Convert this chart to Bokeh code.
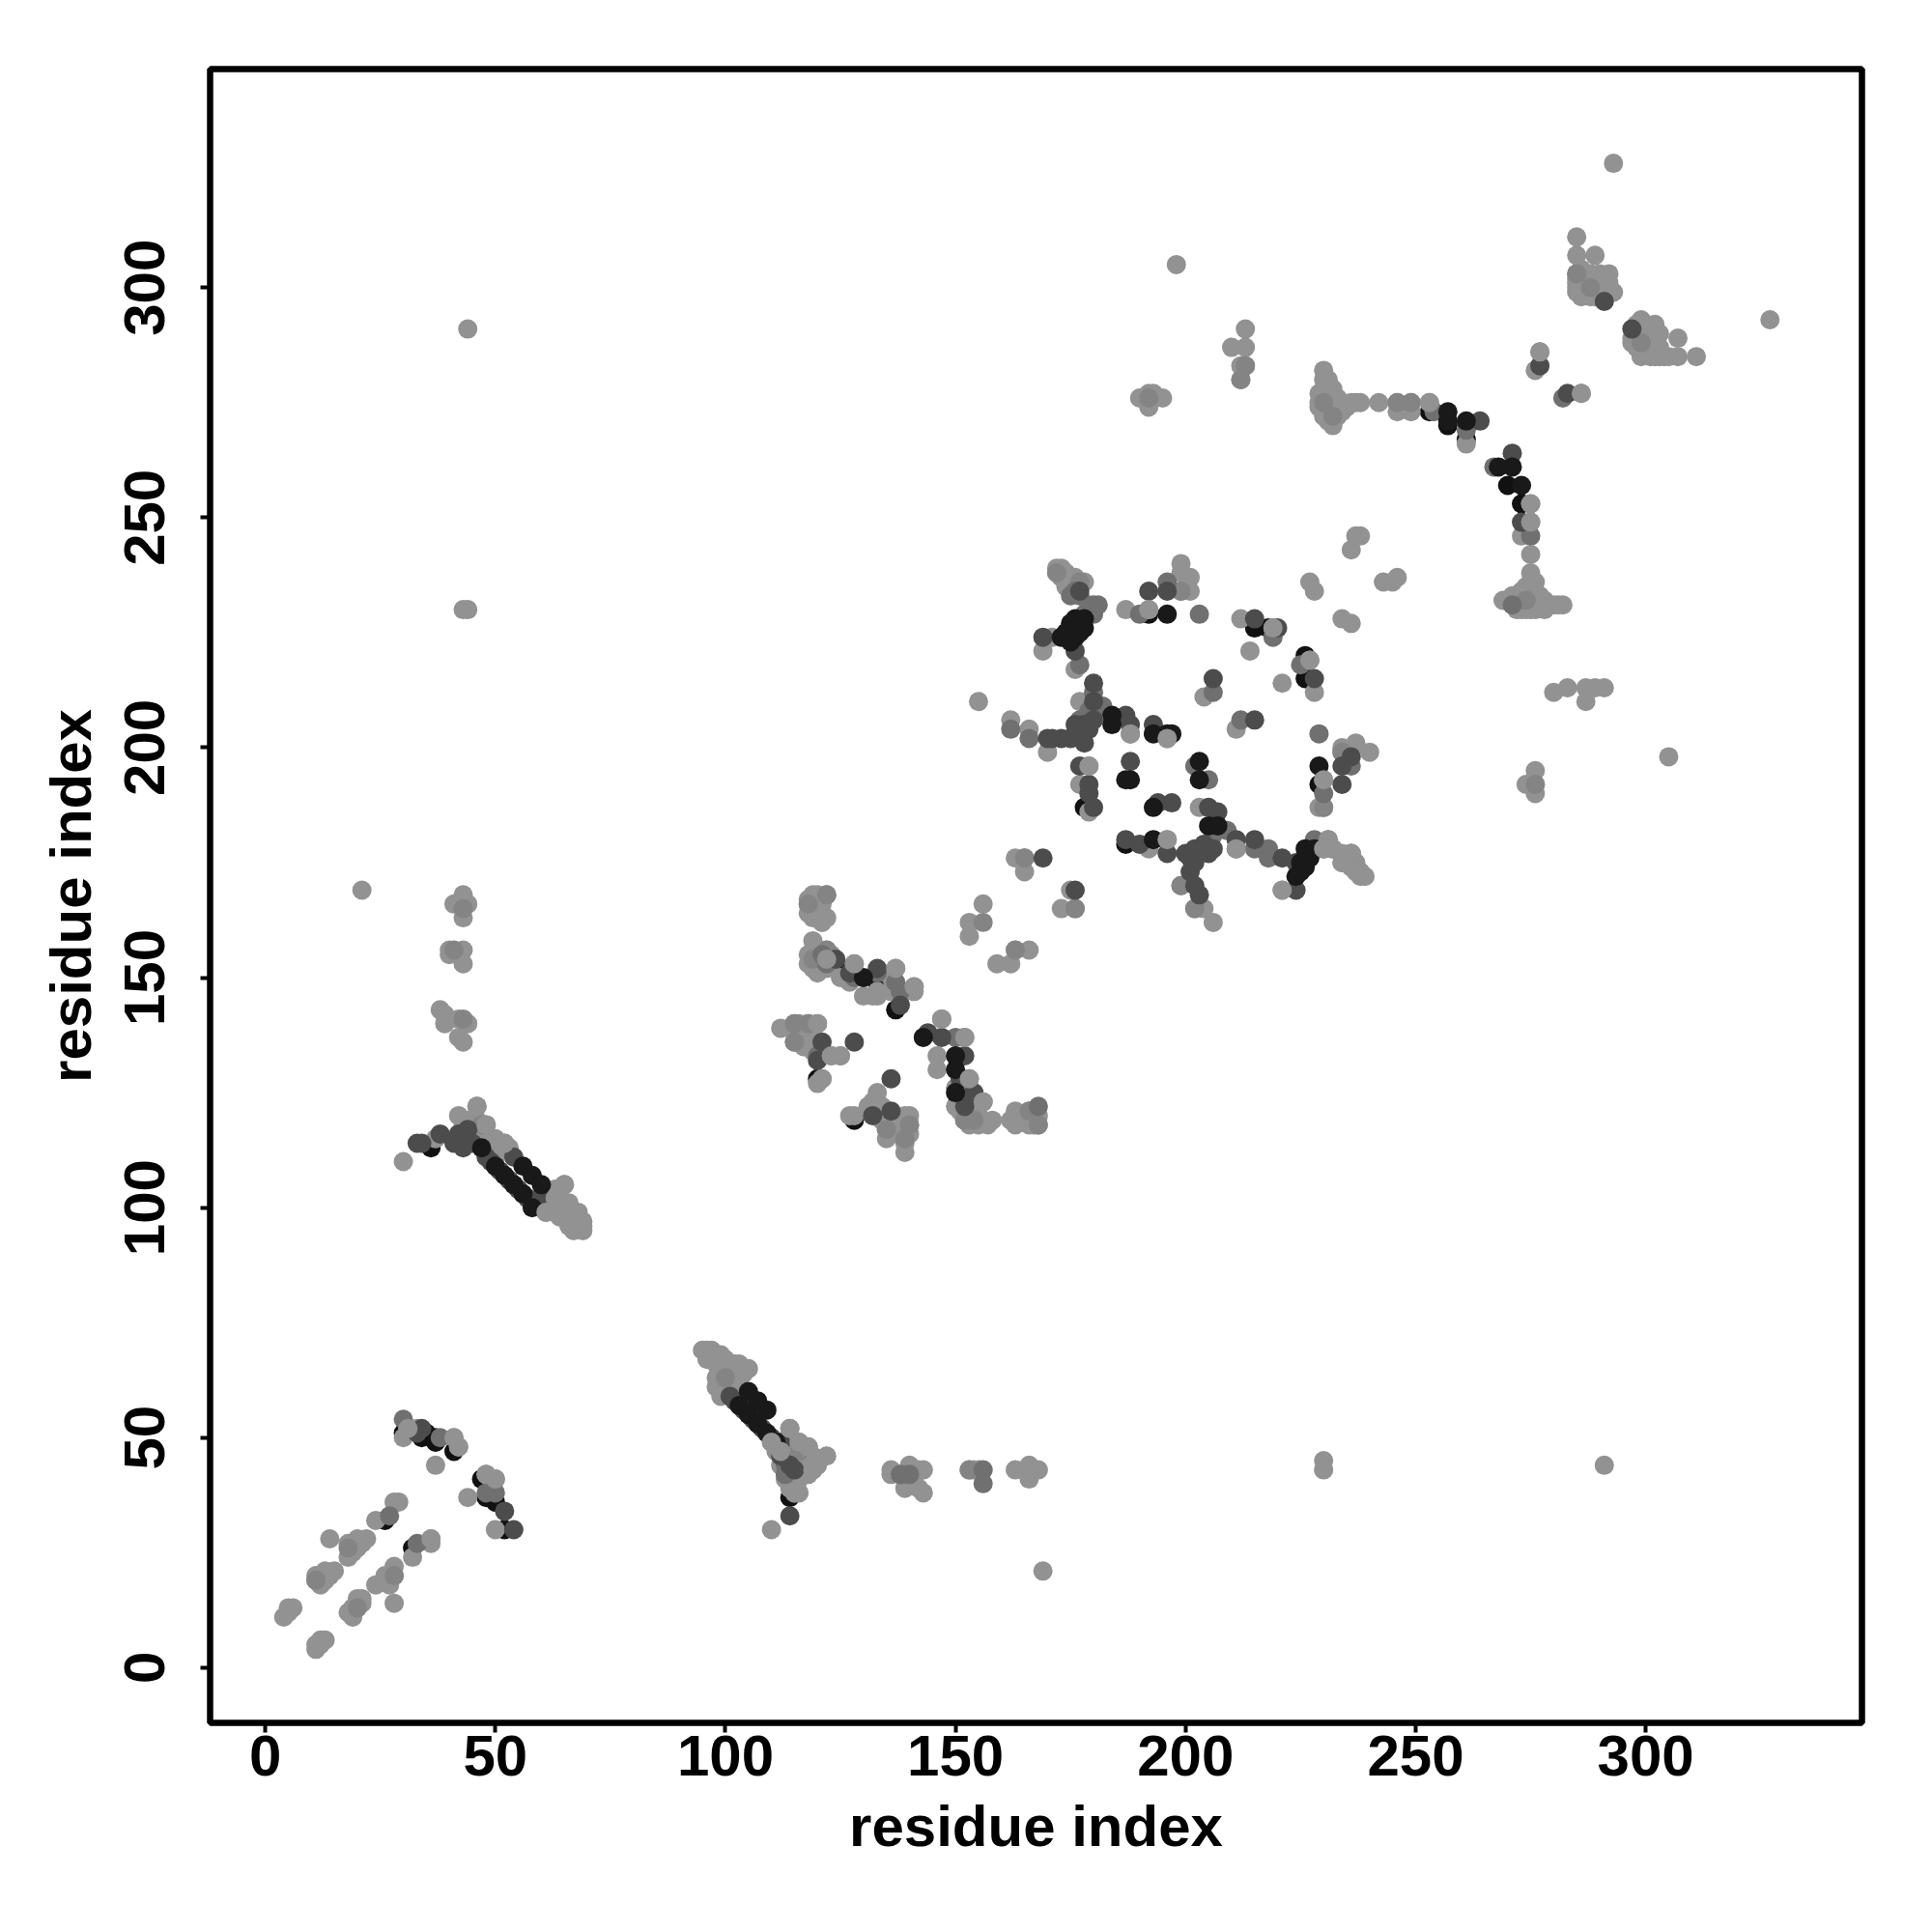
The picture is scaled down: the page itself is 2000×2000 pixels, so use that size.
from bokeh.plotting import figure
from bokeh.models import FixedTicker, Range1d
from bokeh.embed import file_html
from bokeh.resources import INLINE

tick_values = [0, 50, 100, 150, 200, 250, 300]
x_label = "residue index"
y_label = "residue index"

under_black_points = [
 (30,51),(34,50),(35,51),(37,50),(37,49),(41,47),(47,41),(48,37),(50,36),(52,30),(32,26),(26,32),(114,37),
 (36,113),(125,152),(133,149),(137,143),(119,136),(120,128),(128,119),(136,119),(192,229),(215,226),(218,226),
 (226,220),(226,218),(226,215),(178,187),(187,179),(229,192),(253,273),(257,270),(261,267),(273,253),(270,257),
]
light_points = [
 (31,52),(30,50),(37,44),(41,50),(42,48),(48,42),(50,41),(44,37),(50,30),(33,52),
 (28,36),(29,36),(24,32),(14,28),(18,27),(20,28),(22,28),(18,24),(20,26),(19,25),(21,27),
 (11,20),(12,18),(13,21),(15,21),(11,19),(12,20),(14,20),(13,19),(5,13),(6,13),(4,11),(5,12),(12,6),(13,6),(11,4),(11,5),(12,5),
 (36,28),(36,27),(32,24),(28,22),(28,20),(24,18),(27,18),(26,19),(28,14),(21,15),(20,13),(18,12),(19,11),(21,14),(27,20),(26,20),(20,15),(19,13),
 (95,69),(96,69),(97,69),(96,67),(98,68),(99,66),(100,67),(102,66),(105,65),(99,64),(101,64),(98,61),(99,59),(100,62),
 (96,68),(97,67),(98,66),(99,68),(100,64),(101,66),(103,65),(103,66),(104,64),(98,63),(102,62),(100,60),(101,61),(103,63),
 (110,49),(112,47),(114,52),(116,49),(118,48),(122,46),(119,43),(116,46),(114,42),(115,40),(115,38),(116,44),(110,30),
 (111,47),(113,46),(113,49),(115,48),(117,47),(115,45),(117,45),(119,46),(120,44),(118,42),(116,41),(113,41),(114,39),(116,38),(117,44),(112,44),
 (136,43),(136,42),(140,44),(142,43),(141,41),(139,39),(142,39),(143,38),(141,42),(143,43),(140,43),
 (153,43),(155,43),(154,43),(163,43),(166,44),(168,43),(166,41),(169,21),(230,45),(230,43),(291,44),
 (30,110),(37,115),(43,115),(42,120),(46,122),(48,118),(45,118),(44,119),(52,114),(50,115),(65,105),(66,101),(63,102),(61,99),(64,99),(67,99),(68,98),(69,97),(69,95),(68,96),
 (45,117),(43,118),(44,116),(46,119),(47,116),(48,116),(49,115),(50,114),(51,113),(53,113),(48,113),(49,112),(50,111),
 (60,103),(61,101),(62,100),(63,99),(64,98),(65,100),(66,98),(67,97),(64,102),(63,104),(68,99),(66,96),(67,95),(69,96),(62,103),
 (21,169),(44,291),(44,230),(43,230),(43,168),(41,166),(44,166),(43,163),(40,156),(43,156),(40,155),(43,153),(38,143),(39,142),(39,140),(42,141),(44,140),(42,137),(43,136),
 (119,168),(122,168),(118,166),(121,166),(119,163),(122,163),(119,158),(119,154),(122,156),(120,152),(125,150),(128,153),(130,146),(133,147),(137,152),(141,148),(141,147),
 (118,155),(118,153),(120,156),(120,154),(121,153),(122,154),(123,155),(119,152),(120,151),(122,152),(123,153),(118,164),(120,165),(120,168),(120,163),(121,162),(118,167),
 (112,139),(115,140),(118,140),(120,140),(115,136),(117,135),(123,133),(125,133),(121,128),(120,127),
 (116,138),(117,137),(114,139),(116,140),(117,139),(118,138),(119,134),(118,136),(127,149),(132,146),(133,146),(136,147),(136,150),(138,146),
 (133,125),(132,123),(133,121),(128,120),(127,120),(135,117),(136,116),(140,120),(140,118),(139,115),(139,112),
 (131,122),(134,122),(135,118),(136,117),(134,119),(135,115),(137,118),(139,118),(140,116),(139,114),(139,120),
 (147,141),(152,137),(146,133),(146,130),(153,128),(150,126),(156,123),(152,119),(154,119),(156,119),(158,119),(163,121),(162,119),(166,121),(168,118),(166,118),
 (152,121),(153,120),(154,121),(155,120),(153,118),(155,118),(157,118),(151,121),(150,122),(151,123),(152,125),(153,122),(164,119),(165,120),(167,120),(167,118),(168,120),(163,118),
 (156,166),(153,162),(153,159),(166,156),(163,156),(162,153),(159,153),
 (172,239),(172,238),(174,238),(175,237),(177,236),(175,234),(171,224),(169,221),(176,217),(177,210),(155,210),(162,206),(166,204),(170,199),(188,203),(196,202),
 (173,237),(173,239),(175,236),(176,235),(176,237),(178,236),(174,235),(179,231),
 (187,230),(192,230),(199,240),(199,238),(201,237),(199,234),(201,234),(212,228),(214,221),(219,226),(221,214),(228,212),(204,211),(227,219),(211,204),
 (227,236),(228,234),(234,228),(236,227),(236,243),(238,246),(237,246),(243,236),(246,237),(245,236),
 (179,196),(177,192),(179,186),(203,187),(192,178),(196,180),(199,170),(202,165),(204,165),(206,162),(211,178),(221,169),(231,180),(230,178),
 (165,176),(163,176),(165,173),(173,165),(175,169),(176,165),
 (234,177),(236,177),(234,175),(237,175),(238,172),(237,173),(234,200),(237,201),(240,199),(234,199),(230,193),(229,187),(230,187),
 (232,178),(235,175),(236,174),(238,173),(239,172),
 (198,305),(213,291),(213,287),(210,287),(212,283),(213,283),(212,280),(190,276),(192,277),(193,277),(195,276),(192,274),
 (230,282),(230,280),(231,278),(232,276),(229,275),(231,273),(233,272),(232,270),(234,275),(235,274),(237,275),(242,275),(246,275),(246,273),(249,275),(249,273),(253,275),(261,266),
 (229,277),(230,276),(231,275),(232,274),(230,278),(231,280),(232,278),(233,276),(233,274),(231,277),(229,274),(230,272),(231,271),(234,273),(236,275),(238,275),
 (274,192),(276,195),(276,192),(276,190),(280,212),(283,213),(287,213),(287,210),(289,213),(291,213),(305,198),(277,286),(276,282),(286,277),
 (275,253),(275,249),(273,246),(275,242),(275,238),(274,235),(272,233),(269,232),(274,230),(276,230),(278,232),(280,231),(282,231),(272,230),(275,233),
 (273,232),(274,233),(276,232),(276,234),(277,233),(275,236),(276,236),(273,234),(271,233),(272,232),(270,232),(273,230),(275,230),(277,231),(279,231),(281,231),(278,230),
 (293,327),(285,311),(285,307),(289,307),(285,303),(285,301),(285,299),(288,303),(292,303),(288,298),(293,299),(292,301),(288,300),(327,293),
 (285,300),(285,302),(286,298),(287,300),(288,302),(288,299),(289,298),(290,299),(289,301),(290,303),(291,302),(286,304),(287,303),(291,299),
 (299,293),(297,289),(302,292),(300,292),(307,289),(311,285),(307,285),(299,285),(303,285),(302,288),(300,288),(297,288),
 (298,292),(298,290),(299,290),(300,290),(301,289),(298,287),(299,287),(300,286),(301,285),(302,285),(301,291),(303,290),(303,287),(304,285),(305,285),
]
soft_points = [
 (122,168),(118,166),(119,154),(122,156),(115,140),(118,140),(115,136),(135,117),(139,115),(140,118),
 (152,119),(154,119),(166,121),(168,118),(172,238),(177,236),(199,234),(234,199),(236,177),(165,176),
 (230,275),(232,272),(213,283),(192,276),(276,192),(285,303),(288,300),(299,288),(156,162),(153,43),
 (139,42),(163,156),(11,19),(20,13),(28,20),(18,26),(47,118),(100,63),(116,47),(43,141),(41,156),(43,165),
 (246,275),(249,275),(274,232),(230,187),(199,170),(202,165),(176,165),(212,280),
]
mid_points = [
 (30,54),(38,50),(48,38),(50,38),(33,27),(27,33),(156,43),(156,40),(140,42),(138,42),(113,44),(113,42),
 (128,150),(133,151),(137,149),(138,147),(120,133),(150,137),(168,122),(122,153),(121,155),
 (180,231),(178,229),(177,218),(182,209),(177,206),(162,204),(166,202),(190,229),(196,236),(203,229),(212,206),(206,212),
 (180,212),(179,208),(180,208),(181,209),(175,233),(177,233),(176,234),(180,229),(180,230),(181,231),
 (202,196),(205,193),(209,182),(206,181),(215,178),(218,178),(218,176),(219,224),(225,218),(229,203),(236,196),(230,190),(228,180),
 (261,269),(267,261),(275,246),(254,273),(282,276),(271,231),
]
dark_points = [
 (34,52),(33,51),(52,34),(54,30),(114,33),(33,114),(34,114),(38,116),(42,116),(54,111),
 (101,59),(102,58),(104,56),(106,54),(108,52),(110,50),(112,49),(112,46),(114,44),(115,43),
 (43,113),(44,117),(41,114),(45,114),(48,111),(49,110),(51,108),(53,106),(55,104),(57,102),(59,101),(60,102),
 (124,154),(133,152),(138,144),(127,151),(121,136),(128,136),(120,132),(144,138),(147,137),(152,133),(151,128),(154,125),(136,128),(136,121),(132,120),
 (152,122),(153,124),
 (177,234),(169,224),(176,221),(180,214),(180,210),(187,207),(188,205),(193,205),(170,202),(173,202),(176,203),(179,204),(178,201),
 (171,202),(175,202),(177,203),(178,205),(179,205),(180,206),(176,205),
 (192,234),(196,234),(220,226),(215,228),(228,215),(206,215),(215,206),
 (188,197),(177,196),(179,192),(179,190),(180,187),(194,188),(197,188),(205,187),(207,186),
 (187,180),(190,179),(196,177),(200,177),(202,178),(204,179),(206,178),(202,175),(201,173),(202,170),(203,168),
 (205,177),(201,176),
 (211,180),(215,180),(221,176),(224,169),(169,176),(176,169),(236,198),(234,196),(234,192),
 (225,174),(226,176),(227,177),(224,175),
 (277,283),(283,277),(264,271),(271,264),(273,249),(291,297),(297,291),
]
black_points = [
 (103,57),(105,55),(107,53),(109,51),(111,49),(105,60),(107,58),(109,56),
 (47,113),(50,109),(52,107),(54,105),(56,103),(58,100),(56,109),(58,107),(60,105),
 (130,150),(143,137),(150,133),(150,130),(150,125),
 (175,227),(177,227),(175,225),(173,224),(178,226),(176,224),(176,226),(174,225),(177,225),(175,223),(176,228),(178,228),
 (184,207),(184,205),(193,203),(196,203),(197,203),(196,229),
 (188,193),(187,193),(203,197),(203,193),(193,187),(205,183),(207,183),(193,180),
 (226,178),(225,173),(225,175),(226,174),(227,176),(228,178),(224,172),(229,196),
 (257,273),(257,271),(261,271),(271,261),(268,261),(273,257),
]
top_light_points = [
 (179,196),(230,193),(231,180),(230,178),(227,219),(219,226),(196,180),(153,128),(141,148),(137,152),
 (128,153),(122,154),(50,41),(48,42),(41,50),(42,48),(31,52),(36,28),(114,52),(116,49),(118,48),(119,43),
 (115,38),(65,105),(52,114),(48,118),(46,122),(275,253),(275,249),(253,275),(277,286),(286,277),(196,202),
 (188,203),(192,230),(211,178),(221,169),(152,137),(147,141),(156,123),(121,128),(125,133),(123,133),(120,140),
 (112,47),(110,49),(61,99),(63,102),(232,178),(234,175),(236,177),
]
shade_colors = {"under": "#111111", "light": "#929292", "soft": "#848484", "mid": "#707070",
                "dark": "#4c4c4c", "black": "#191919", "top": "#929292"}
draw_order = [("under", under_black_points), ("light", light_points), ("soft", soft_points), ("mid", mid_points),
              ("dark", dark_points), ("black", black_points), ("top", top_light_points)]

p = figure(width=1984, height=1984, output_backend="svg", toolbar_location=None,
           x_range=Range1d(-12, 347), y_range=Range1d(-12, 347.5),
           min_border_left=217, min_border_right=57, min_border_top=71, min_border_bottom=201,
           background_fill_color="white", border_fill_color="white")
p.grid.visible = False
p.outline_line_color = "black"
p.outline_line_width = 6.5
p.outline_line_alpha = 1

for name, pts in draw_order:
    p.scatter([a for a, b in pts], [b for a, b in pts], size=20, marker="circle",
              fill_color=shade_colors[name], line_color=None)

for ax, lab in ((p.xaxis[0], x_label), (p.yaxis[0], y_label)):
    ax.ticker = FixedTicker(ticks=tick_values)
    ax.axis_label = lab
    ax.axis_label_text_font = "Liberation Sans"
    ax.axis_label_text_font_style = "bold"
    ax.axis_label_text_font_size = "60px"
    ax.axis_label_text_color = "black"
    ax.major_label_text_font = "Liberation Sans"
    ax.major_label_text_font_style = "bold"
    ax.major_label_text_font_size = "60px"
    ax.major_label_text_color = "black"
    ax.axis_line_color = None
    ax.major_tick_line_color = "black"
    ax.major_tick_line_width = 4
    ax.major_tick_out = 10
    ax.major_tick_in = 0
    ax.minor_tick_line_color = None
p.yaxis[0].major_label_orientation = "vertical"
p.xaxis[0].major_label_standoff = 3
p.xaxis[0].axis_label_standoff = 16
p.yaxis[0].major_label_standoff = 37
p.yaxis[0].axis_label_standoff = 20

open("out.html", "w").write(file_html(p, INLINE))
